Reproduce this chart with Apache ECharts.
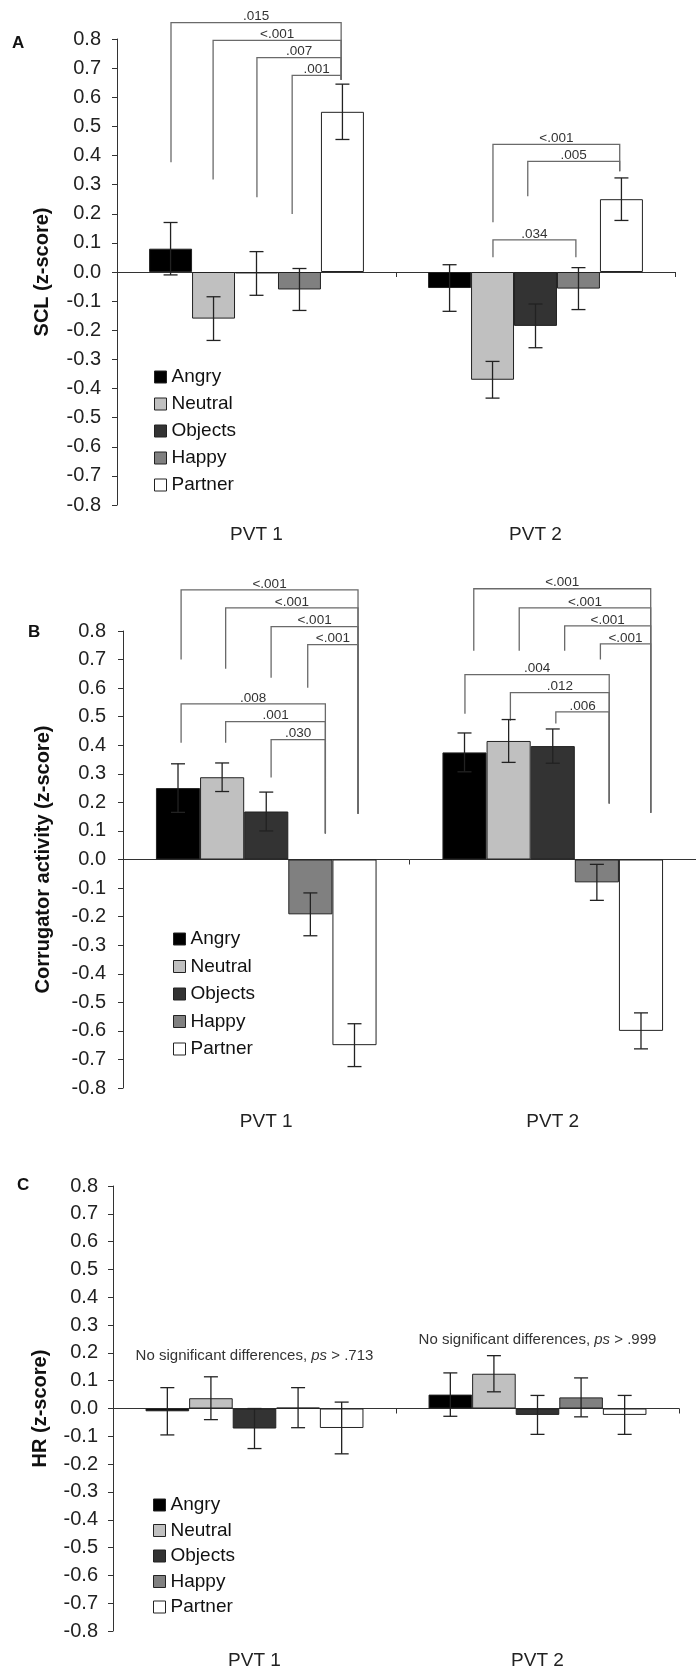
<!DOCTYPE html>
<html><head><meta charset="utf-8">
<script src="https://cdn.jsdelivr.net/npm/echarts@6/dist/echarts.min.js"></script>
<style>html,body{margin:0;padding:0;background:#fff}#c{width:696px;height:1671px}</style>
</head><body><div id="c"></div>
<script>
// ---------- data ----------
const categories = ['PVT 1', 'PVT 2'];
const conditions = ['Angry', 'Neutral', 'Objects', 'Happy', 'Partner'];
const yMin = -0.8, yMax = 0.8, yStep = 0.1;

// SCL (panel A)
const sclPVT1    = [0.08, -0.16, -0.005, -0.06, 0.55];
const sclPVT1Err = [0.09, 0.075, 0.075, 0.072, 0.095];
const sclPVT2    = [-0.055, -0.37, -0.185, -0.057, 0.25];
const sclPVT2Err = [0.08, 0.063, 0.075, 0.072, 0.073];
// Corrugator (panel B)
const corPVT1    = [0.25, 0.288, 0.168, -0.192, -0.65];
const corPVT1Err = [0.085, 0.05, 0.068, 0.075, 0.075];
const corPVT2    = [0.375, 0.415, 0.397, -0.08, -0.60];
const corPVT2Err = [0.068, 0.075, 0.06, 0.063, 0.063];
// HR (panel C)
const hrPVT1     = [-0.01, 0.037, -0.072, 0.003, -0.07];
const hrPVT1Err  = [0.085, 0.077, 0.072, 0.072, 0.093];
const hrPVT2     = [0.05, 0.125, -0.023, 0.04, -0.023];
const hrPVT2Err  = [0.078, 0.065, 0.07, 0.07, 0.07];

// significance brackets: [category, left slot, right slot, level, left leg end, right leg end, label]
const bracketsSCL = [
  [0, 0.51, 4.47, 0.856, 0.377, 0.66, '.015'],
  [0, 1.49, 4.47, 0.795, 0.318, 0.66, '<.001'],
  [0, 2.51, 4.47, 0.736, 0.257, 0.66, '.007'],
  [0, 3.33, 4.47, 0.675, 0.199, 0.66, '.001'],
  [1, 1.51, 4.46, 0.438, 0.171, 0.346, '<.001'],
  [1, 2.32, 4.46, 0.38, 0.26, 0.346, '.005'],
  [1, 1.51, 3.44, 0.11, 0.051, 0.051, '.034']
];
const bracketsCor = [
  [0, 0.57, 4.58, 0.944, 0.70, 0.16, '<.001'],
  [0, 1.58, 4.58, 0.881, 0.668, 0.16, '<.001'],
  [0, 2.61, 4.58, 0.815, 0.636, 0.16, '<.001'],
  [0, 3.44, 4.58, 0.752, 0.601, 0.16, '<.001'],
  [0, 0.57, 3.84, 0.545, 0.409, 0.091, '.008'],
  [0, 1.58, 3.84, 0.483, 0.409, 0.091, '.001'],
  [0, 2.61, 3.84, 0.42, 0.287, 0.091, '.030'],
  [1, 0.71, 4.72, 0.948, 0.731, 0.164, '<.001'],
  [1, 1.74, 4.72, 0.881, 0.731, 0.164, '<.001'],
  [1, 2.77, 4.72, 0.818, 0.731, 0.164, '<.001'],
  [1, 3.58, 4.72, 0.755, 0.70, 0.164, '<.001'],
  [1, 0.51, 3.78, 0.647, 0.51, 0.196, '.004'],
  [1, 1.54, 3.78, 0.584, 0.486, 0.196, '.012'],
  [1, 2.57, 3.78, 0.517, 0.476, 0.196, '.006']
];
const notesHR = [
  [0, 0.19, 'No significant differences, {i|ps} > .713'],
  [1, 0.248, 'No significant differences, {i|ps} > .999']
];

// ---------- styling / layout ----------
const FONT = '"Liberation Sans", Arial, sans-serif';
const barColors = ['#000000', '#c0c0c0', '#333333', '#808080', '#ffffff'];
const GAP = 0.23;
const panels = [
  { grid: { left: 117, right: 21, top: 39, height: 466 }, name: 'SCL (z-score)', nameGap: 65, labMargin: 16, xMargin: 20,
    means: [sclPVT1, sclPVT2], errs: [sclPVT1Err, sclPVT2Err], brackets: bracketsSCL,
    legend: { left: 154, top: 367, itemGap: 7 } },
  { grid: { left: 123, right: -7, top: 631, height: 457 }, name: 'Corrugator activity (z-score)', nameGap: 70, labMargin: 17, xMargin: 24,
    means: [corPVT1, corPVT2], errs: [corPVT1Err, corPVT2Err], brackets: bracketsCor,
    legend: { left: 173, top: 929, itemGap: 7.5 } },
  { grid: { left: 113, right: 17, top: 1186, height: 445 }, name: 'HR (z-score)', nameGap: 63, labMargin: 15, xMargin: 20,
    means: [hrPVT1, hrPVT2], errs: [hrPVT1Err, hrPVT2Err], brackets: null, notes: notesHR,
    legend: { left: 153, top: 1495, itemGap: 5.5 } }
];

function slotX(api, cat, slot) {
  const c = api.coord([cat, 0]);
  const band = api.size([1, 0])[0];
  const gw = band * (1 - GAP);
  return c[0] - gw / 2 + slot * gw / 5;
}

const grids = [], xAxes = [], yAxes = [], series = [], legends = [];
panels.forEach((p, pi) => {
  grids.push(p.grid);
  xAxes.push({
    type: 'category', gridIndex: pi, data: categories, position: 'bottom',
    axisLine: { onZero: true, lineStyle: { color: '#333', width: 1 } },
    axisTick: { show: true, length: 5, lineStyle: { color: '#333' } },
    axisLabel: { show: false }, splitLine: { show: false }
  });
  xAxes.push({
    type: 'category', gridIndex: pi, data: categories, position: 'bottom',
    axisLine: { show: false, onZero: false }, axisTick: { show: false },
    axisLabel: { fontSize: 19, color: '#222', fontFamily: FONT, margin: p.xMargin }, splitLine: { show: false }
  });
  yAxes.push({
    type: 'value', gridIndex: pi, min: yMin, max: yMax, interval: yStep,
    axisLine: { show: true, lineStyle: { color: '#333', width: 1 } },
    axisTick: { show: true, length: 5, lineStyle: { color: '#333' } },
    splitLine: { show: false },
    axisLabel: { fontSize: 20, color: '#222', fontFamily: FONT, margin: p.labMargin,
      formatter: v => (Math.abs(v) < 1e-9 ? 0 : v).toFixed(1) },
    name: p.name, nameLocation: 'middle', nameGap: p.nameGap,
    nameTextStyle: { fontSize: 20, fontWeight: 'bold', color: '#111', fontFamily: FONT }
  });
  conditions.forEach((cond, ci) => {
    series.push({
      type: 'bar', name: cond, xAxisIndex: pi * 2, yAxisIndex: pi,
      data: [p.means[0][ci], p.means[1][ci]],
      barGap: '0%', barCategoryGap: (GAP * 100) + '%',
      itemStyle: { color: barColors[ci], borderColor: '#222', borderWidth: 1 },
      emphasis: { disabled: true }, z: 2
    });
  });
  const errData = [];
  [0, 1].forEach(cat => conditions.forEach((c, ci) => errData.push([cat, ci, p.means[cat][ci], p.errs[cat][ci]])));
  series.push({
    type: 'custom', xAxisIndex: pi * 2, yAxisIndex: pi, z: 5, clip: false,
    encode: { x: 0, y: 2 }, data: errData, silent: true,
    renderItem: (params, api) => {
      const cat = api.value(0), slot = api.value(1), m = api.value(2), e = api.value(3);
      const x = slotX(api, cat, slot + 0.5);
      const yt = api.coord([cat, m + e])[1], yb = api.coord([cat, m - e])[1];
      const st = { stroke: '#222', lineWidth: 1.3 };
      return { type: 'group', children: [
        { type: 'line', shape: { x1: x, y1: yt, x2: x, y2: yb }, style: st },
        { type: 'line', shape: { x1: x - 7, y1: yt, x2: x + 7, y2: yt }, style: st },
        { type: 'line', shape: { x1: x - 7, y1: yb, x2: x + 7, y2: yb }, style: st }
      ] };
    }
  });
  if (p.brackets) {
    const br = p.brackets;
    series.push({
      type: 'custom', xAxisIndex: pi * 2, yAxisIndex: pi, z: 4, clip: false, silent: true,
      encode: { x: 0, y: 3 }, data: br.map(b => b.slice(0, 6)),
      renderItem: (params, api) => {
        const cat = api.value(0);
        const x1 = slotX(api, cat, api.value(1)), x2 = slotX(api, cat, api.value(2));
        const yl = api.coord([cat, api.value(3)])[1];
        const y1 = api.coord([cat, api.value(4)])[1];
        const y2 = api.coord([cat, api.value(5)])[1];
        return { type: 'group', children: [
          { type: 'polyline', shape: { points: [[x1, y1], [x1, yl], [x2, yl], [x2, y2]] },
            style: { stroke: '#6a6a6a', lineWidth: 1.3, fill: null } },
          { type: 'text', style: { x: (x1 + x2) / 2, y: yl + 1, text: br[params.dataIndex][6],
            fill: '#333', font: '13.5px ' + FONT, textAlign: 'center', textVerticalAlign: 'bottom' } }
        ] };
      }
    });
  }
  if (p.notes) {
    const nt = p.notes;
    series.push({
      type: 'custom', xAxisIndex: pi * 2, yAxisIndex: pi, z: 4, clip: false, silent: true,
      encode: { x: 0, y: 1 }, data: nt.map(n => [n[0], n[1]]),
      renderItem: (params, api) => {
        const c = api.coord([api.value(0), api.value(1)]);
        return { type: 'text', style: { x: c[0], y: c[1], text: nt[params.dataIndex][2],
          fill: '#333', fontSize: 15, fontFamily: FONT, align: 'center', verticalAlign: 'middle',
          rich: { i: { fontStyle: 'italic', fontSize: 15, fontFamily: FONT, fill: '#333' } } } };
      }
    });
  }
  legends.push({
    orient: 'vertical', left: p.legend.left, top: p.legend.top, itemGap: p.legend.itemGap,
    itemWidth: 12, itemHeight: 12, icon: 'rect', data: conditions, selectedMode: false,
    padding: 0, itemStyle: { borderColor: '#222', borderWidth: 1 },
    textStyle: { fontSize: 19, lineHeight: 20, color: '#111', fontFamily: FONT }
  });
});

const chart = echarts.init(document.getElementById('c'), null, { renderer: 'canvas' });
chart.setOption({
  animation: false,
  backgroundColor: '#fff',
  textStyle: { fontFamily: FONT },
  grid: grids, xAxis: xAxes, yAxis: yAxes, legend: legends, series: series,
  graphic: [
    { type: 'text', left: 12, top: 35, style: { text: 'A', font: 'bold 17px ' + FONT, fill: '#111' } },
    { type: 'text', left: 28, top: 624, style: { text: 'B', font: 'bold 17px ' + FONT, fill: '#111' } },
    { type: 'text', left: 17, top: 1177, style: { text: 'C', font: 'bold 17px ' + FONT, fill: '#111' } }
  ]
});
</script></body></html>
